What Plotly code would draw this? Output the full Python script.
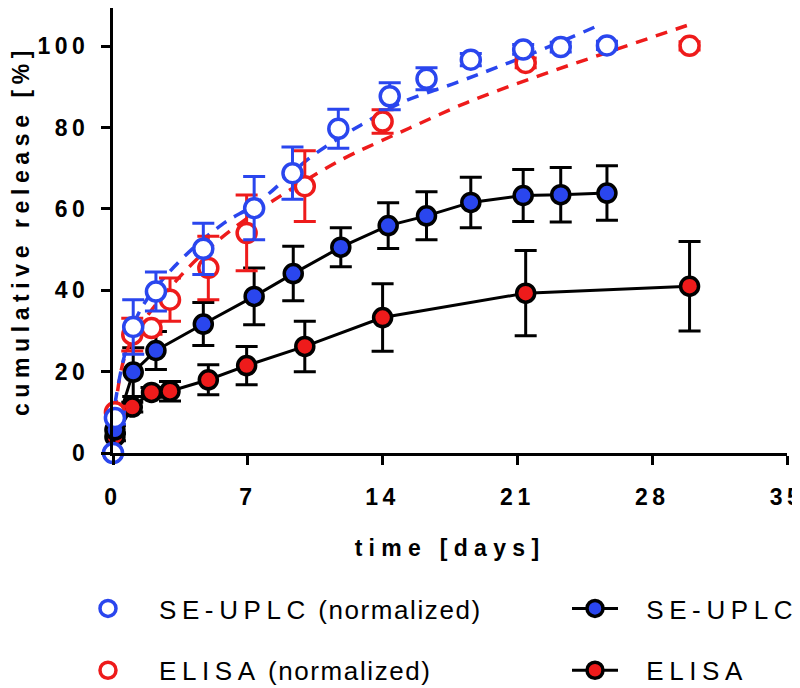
import plotly.graph_objects as go

BLUE = "#2a46ee"
RED = "#ee1b1b"

# SE-UPLC (absolute)
t_se = [0, 0.1, 1.05, 2.23, 4.69, 7.33, 9.36, 11.83, 14.29, 16.28, 18.58, 21.3, 23.25, 25.65]
y_se = [0, 5.7, 19.9, 25.2, 31.7, 38.5, 44.1, 50.6, 55.9, 58.3, 61.6, 63.3, 63.5, 63.9]
e_se = [0, 1.0, 6.0, 4.7, 5.3, 7.0, 6.7, 4.8, 5.6, 5.9, 6.2, 6.4, 6.7, 6.7]

# ELISA (absolute)
t_el = [0, 0.1, 1.0, 2.0, 2.96, 4.95, 6.94, 9.96, 14.0, 21.43, 29.94]
y_el = [0, 4.0, 11.3, 14.9, 15.2, 18.0, 21.5, 26.2, 33.3, 39.3, 41.0]
e_el = [0, 1.0, 1.2, 1.2, 2.4, 3.7, 4.7, 6.2, 8.3, 10.5, 11.0]

# SE-UPLC (normalized)
t_sen = [0, 0.1, 1.05, 2.23, 4.69, 7.33, 9.32, 11.7, 14.37, 16.28, 18.58, 21.3, 23.25, 25.65]
y_sen = [0, 8.6, 31.0, 39.7, 50.2, 60.2, 68.8, 79.7, 87.7, 92.0, 96.7, 99.2, 99.8, 100.2]
e_sen = [0, 1.5, 6.7, 4.8, 6.3, 7.8, 6.4, 4.8, 3.3, 2.7, 1.5, 1.2, 1.2, 1.0]

# ELISA (normalized)
t_eln = [0.1, 1.0, 2.0, 2.96, 4.95, 6.94, 9.96, 14.0, 21.43, 29.94]
y_eln = [10.0, 29.1, 30.7, 37.7, 45.5, 54.1, 65.6, 81.5, 95.9, 100.1]
e_eln = [1.5, 4.0, 1.5, 5.3, 7.8, 9.3, 8.7, 2.9, 1.2, 1.0]

# fitted curves
t_fit_se = [0.1, 0.6, 1.4, 3.2, 5.64, 7.5, 10.2, 12.1, 13.2, 14.9, 17.8, 20.1, 22.7, 25.3]
y_fit_se = [12.0, 24.0, 35.0, 45.9, 56.1, 61.5, 72.5, 78.5, 81.5, 86.0, 91.0, 95.1, 100.0, 105.3]
t_fit_el = [0.1, 0.62, 1.6, 3.74, 5.3, 7.2, 9.2, 11.94, 13.68, 15.41, 18.35, 21.8, 25.3, 29.8]
y_fit_el = [10.0, 23.8, 32.5, 44.7, 51.6, 58.5, 64.7, 72.3, 76.2, 79.9, 86.1, 92.2, 97.9, 105.1]

x_ticks = [0, 7, 14, 21, 28, 35]
y_ticks = [0, 20, 40, 60, 80, 100]

x_title = "time [days]"
y_title = "cumulative release [%]"


def spaced(text, px):
    return f"<span style='letter-spacing:{px}px'>{text}</span>"


def legend_name(caps, rest="", pad=0):
    s = ""
    if pad:
        s += f"<span style='letter-spacing:{pad}px'>\u00a0</span>"
    s += spaced(caps, 5.6)
    if rest:
        s += " " + spaced(rest, 1.6)
    return s


fig = go.Figure()

# absolute series
fig.add_trace(go.Scatter(
    x=t_el, y=y_el, mode="lines+markers", name=legend_name("ELISA", pad=16),
    line=dict(color="black", width=3),
    marker=dict(color=RED, size=18, line=dict(color="black", width=3.5)),
    error_y=dict(type="data", array=e_el, color="black", thickness=3, width=11),
    legend="legend2", legendrank=2, legendgroup="el", cliponaxis=False))
fig.add_trace(go.Scatter(
    x=t_se, y=y_se, mode="lines+markers", name=legend_name("SE-UPLC", pad=16),
    line=dict(color="black", width=3),
    marker=dict(color=BLUE, size=18, line=dict(color="black", width=3.5)),
    error_y=dict(type="data", array=e_se, color="black", thickness=3, width=11),
    legend="legend2", legendrank=1, legendgroup="se", cliponaxis=False))

# fitted dashed curves
fig.add_trace(go.Scatter(
    x=t_fit_el, y=y_fit_el, mode="lines", showlegend=False,
    line=dict(color=RED, width=3.5, dash="12px,9px", shape="spline"),
    hoverinfo="skip", cliponaxis=False))
fig.add_trace(go.Scatter(
    x=t_fit_se, y=y_fit_se, mode="lines", showlegend=False,
    line=dict(color=BLUE, width=3.5, dash="12px,9px", shape="spline"),
    hoverinfo="skip", cliponaxis=False))

# normalized series
fig.add_trace(go.Scatter(
    x=t_eln, y=y_eln, mode="markers", name=legend_name("ELISA", "(normalized)"),
    marker=dict(color="white", size=19, line=dict(color=RED, width=3.5)),
    error_y=dict(type="data", array=e_eln, color=RED, thickness=3, width=11),
    legend="legend", legendrank=2, legendgroup="eln", cliponaxis=False))
fig.add_trace(go.Scatter(
    x=t_sen, y=y_sen, mode="markers", name=legend_name("SE-UPLC", "(normalized)"),
    marker=dict(color="white", size=19, line=dict(color=BLUE, width=3.5)),
    error_y=dict(type="data", array=e_sen, color=BLUE, thickness=3, width=11),
    legend="legend", legendrank=1, legendgroup="sen", cliponaxis=False))

FONT = "Liberation Sans, Arial, sans-serif"
tick_font = dict(family=FONT, size=23, color="black", weight="bold")
title_font = dict(family=FONT, size=23, color="black", weight="bold")
leg_font = dict(family=FONT, size=26, color="black")

# the page body adds an 8px offset, so the figure is 8px smaller than the window
fig.update_layout(
    width=792, height=680,
    paper_bgcolor="white", plot_bgcolor="white",
    margin=dict(l=105, r=13, t=0, b=235, autoexpand=False),
    font=dict(family=FONT, color="black"),
    xaxis=dict(
        range=[0, 35], tickvals=x_ticks, ticktext=[spaced(str(v), 4.5) for v in x_ticks],
        showgrid=False, zeroline=False, showline=True, linecolor="black", linewidth=3,
        ticks="outside", ticklen=9, tickwidth=3, tickcolor="black",
        tickfont=tick_font, ticklabelstandoff=12, automargin=False,
        ticklabeloverflow="allow",
        title=dict(text=spaced(x_title, 6.3), font=title_font, standoff=32)),
    yaxis=dict(
        range=[0, 109.4], tickvals=y_ticks, ticktext=[spaced(str(v), 4.5) for v in y_ticks],
        showgrid=False, zeroline=False, showline=True, linecolor="black", linewidth=3,
        ticks="outside", ticklen=9, tickwidth=3, tickcolor="black",
        tickfont=tick_font, ticklabelstandoff=7, automargin=False,
        ticklabeloverflow="allow",
        title=dict(text=spaced(y_title, 5.6), font=title_font, standoff=20)),
    legend=dict(
        x=-0.0831, xanchor="left", y=-0.2967, yanchor="top", orientation="v",
        font=leg_font, itemwidth=92,
        tracegroupgap=25, bgcolor="rgba(0,0,0,0)"),
    legend2=dict(
        x=0.6736, xanchor="left", y=-0.2967, yanchor="top", orientation="v",
        font=leg_font, itemwidth=46,
        tracegroupgap=25, bgcolor="rgba(0,0,0,0)"),
    showlegend=True,
)

fig.write_html("out.html")
